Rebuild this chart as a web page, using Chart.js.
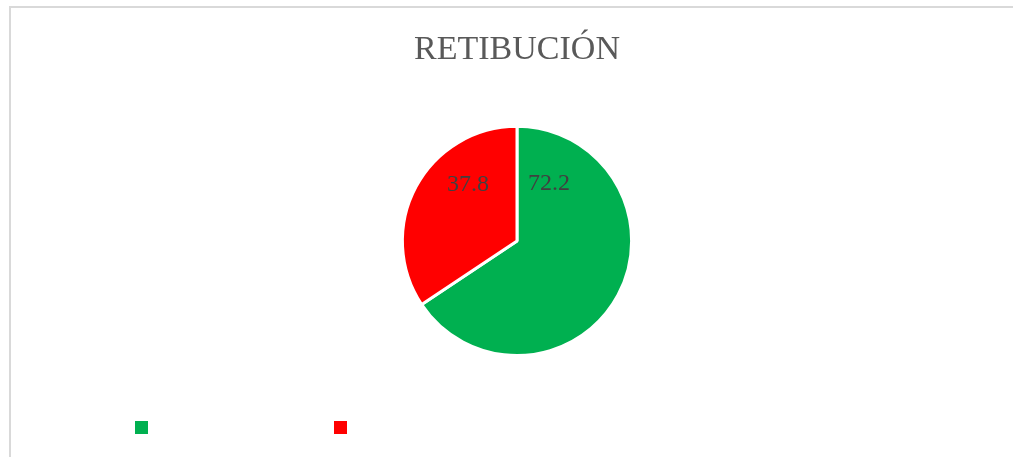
<!DOCTYPE html>
<html>
<head>
<meta charset="utf-8">
<script src="https://cdn.jsdelivr.net/npm/chart.js@4.4.1/dist/chart.umd.min.js"></script>
<style>
	html, body { margin: 0; padding: 0; background: #fff; }
	#frame {
		position: absolute;
		left: 9px;
		top: 6px;
		width: 1002px;
		height: 449px;
		border-left: 2px solid #d9d9d9;
		border-top: 2px solid #d9d9d9;
	}
</style>
</head>
<body>
<div id="frame"><canvas id="retribucion-chart"></canvas></div>
<script>
const categorias = ['', ''];
const valores = [72.2, 37.8];
const colores = ['#00b050', '#ff0000'];
const titulo = 'RETIBUCIÓN';

// etiquetas de datos cerca del corte superior, como en Excel
const etiquetasPlugin = {
	id: 'etiquetas',
	afterDatasetsDraw(chart) {
		const meta = chart.getDatasetMeta(0);
		const ctx = chart.ctx;
		ctx.save();
		ctx.font = '24px "Liberation Serif", serif';
		ctx.fillStyle = '#404040';
		ctx.textAlign = 'center';
		ctx.textBaseline = 'middle';
		meta.data.forEach((arc, i) => {
			const p = arc.getProps(['x', 'y', 'startAngle', 'endAngle', 'outerRadius'], true);
			const ang = i === 0 ? p.startAngle + 0.51 : p.endAngle - 0.72;
			const r = p.outerRadius * (i === 0 ? 0.57 : 0.65);
			ctx.fillText(String(valores[i]), p.x + Math.cos(ang) * r, p.y + Math.sin(ang) * r);
		});
		ctx.restore();
	},
};

// leyenda: solo los cuadros de color, sin texto
const leyendaPlugin = {
	id: 'leyendaCuadros',
	afterDraw(chart) {
		const ctx = chart.ctx;
		const size = 13;
		const y = chart.height - 36;
		ctx.save();
		categorias.forEach((cat, i) => {
			ctx.fillStyle = colores[i];
			ctx.fillRect(124 + i * 199, y, size, size);
		});
		ctx.restore();
	},
};

new Chart(document.getElementById('retribucion-chart'), {
	type: 'pie',
	data: {
		labels: categorias,
		datasets: [
			{
				data: valores,
				backgroundColor: colores,
				borderColor: '#ffffff',
				borderWidth: 3,
			},
		],
	},
	options: {
		responsive: true,
		maintainAspectRatio: false,
		animation: false,
		layout: {
			padding: { left: 10, bottom: 100 },
		},
		plugins: {
			legend: { display: false },
			tooltip: { enabled: false },
			title: {
				display: true,
				text: titulo,
				color: '#595959',
				font: {
					family: '"Liberation Serif", serif',
					size: 34,
					weight: 'normal',
				},
				padding: { top: 22, bottom: 54 },
			},
		},
	},
	plugins: [etiquetasPlugin, leyendaPlugin],
});
</script>
</body>
</html>
